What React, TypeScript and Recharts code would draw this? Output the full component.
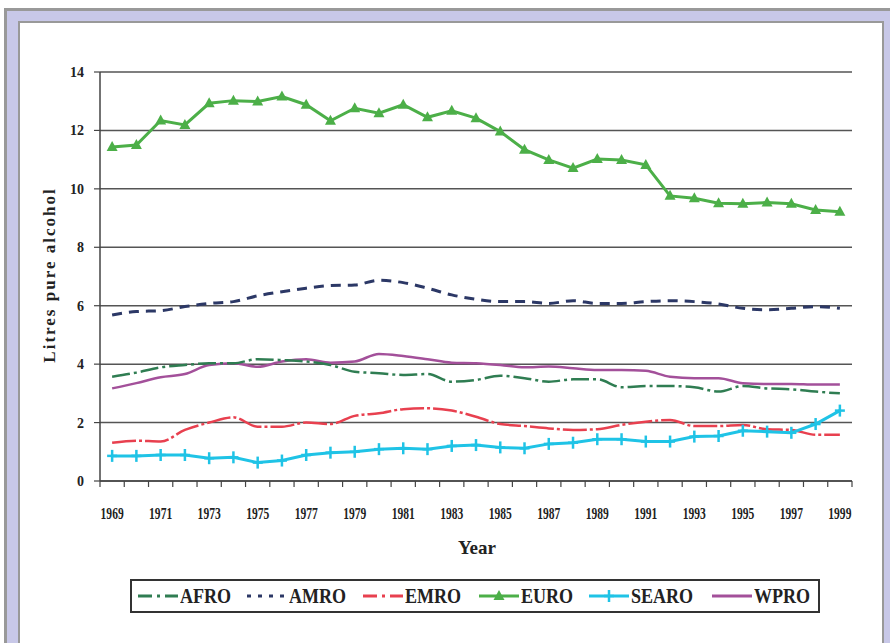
import { LineChart, Line, XAxis, YAxis, CartesianGrid } from "recharts";

const years = [
  1969, 1970, 1971, 1972, 1973, 1974, 1975, 1976, 1977, 1978, 1979, 1980, 1981, 1982, 1983, 1984,
  1985, 1986, 1987, 1988, 1989, 1990, 1991, 1992, 1993, 1994, 1995, 1996, 1997, 1998, 1999,
];

const afro = [
  3.57, 3.71, 3.89, 3.97, 4.03, 4.03, 4.17, 4.14, 4.09, 3.97, 3.74, 3.69, 3.63, 3.66, 3.4, 3.46,
  3.6, 3.52, 3.4, 3.48, 3.48, 3.21, 3.25, 3.25, 3.21, 3.06, 3.25, 3.17, 3.14, 3.06, 3.0,
];
const amro = [
  5.68, 5.8, 5.83, 5.97, 6.08, 6.14, 6.34, 6.48, 6.6, 6.69, 6.71, 6.87, 6.79, 6.6, 6.37, 6.22,
  6.14, 6.14, 6.08, 6.17, 6.08, 6.08, 6.14, 6.17, 6.14, 6.06, 5.91, 5.86, 5.91, 5.97, 5.91,
];
const emro = [
  1.31, 1.38, 1.35, 1.75, 2.0, 2.18, 1.86, 1.86, 2.0, 1.95, 2.23, 2.32, 2.46, 2.49, 2.41, 2.2,
  1.95, 1.88, 1.8, 1.75, 1.77, 1.92, 2.03, 2.09, 1.88, 1.88, 1.92, 1.77, 1.75, 1.58, 1.58,
];
const euro = [
  11.43, 11.5, 12.34, 12.19, 12.93, 13.02, 12.99, 13.16, 12.88, 12.33, 12.76, 12.59, 12.88, 12.45,
  12.67, 12.42, 11.96, 11.34, 10.99, 10.71, 11.02, 10.99, 10.82, 9.76, 9.68, 9.51, 9.49, 9.53, 9.49,
  9.28, 9.22,
];
const searo = [
  0.86, 0.86, 0.89, 0.89, 0.78, 0.81, 0.63, 0.7, 0.89, 0.97, 1.0, 1.09, 1.12, 1.09, 1.2, 1.23,
  1.15, 1.12, 1.27, 1.31, 1.43, 1.43, 1.35, 1.35, 1.52, 1.54, 1.72, 1.69, 1.65, 1.95, 2.41,
];
const wpro = [
  3.17, 3.35, 3.55, 3.66, 3.97, 4.03, 3.91, 4.09, 4.17, 4.05, 4.09, 4.35, 4.28, 4.17, 4.05, 4.03,
  3.97, 3.89, 3.92, 3.86, 3.8, 3.8, 3.77, 3.57, 3.52, 3.52, 3.35, 3.32, 3.32, 3.3, 3.3,
];

const yTicks = [0, 2, 4, 6, 8, 10, 12, 14];

const data = years.map((year, i) => ({
  year,
  AFRO: afro[i],
  AMRO: amro[i],
  EMRO: emro[i],
  EURO: euro[i],
  SEARO: searo[i],
  WPRO: wpro[i],
}));

const SERIF = "'Liberation Serif', 'Times New Roman', serif";
const PLOT_W = 752;
const HALF = PLOT_W / years.length / 2;

const C = {
  AFRO: "#2f7d52",
  AMRO: "#2c3866",
  EMRO: "#e8404f",
  EURO: "#4caf48",
  SEARO: "#1fc3e6",
  WPRO: "#a3509a",
};

const XTick = (props: any) => {
  const { x, y, payload, index } = props;
  const yr = Number(payload.value);
  return (
    <g>
      <line x1={x - HALF} y1={y} x2={x - HALF} y2={y + 6} stroke="#444" strokeWidth={1.2} />
      {index === years.length - 1 && (
        <line x1={x + HALF} y1={y} x2={x + HALF} y2={y + 6} stroke="#444" strokeWidth={1.2} />
      )}
      {yr % 2 === 1 && (
        <text
          transform={`translate(${x},${y + 38}) scale(0.68,1)`}
          textAnchor="middle"
          fontFamily={SERIF}
          fontWeight="bold"
          fontSize={17}
          fill="#222"
        >
          {yr}
        </text>
      )}
    </g>
  );
};

const Triangle = (props: any) => {
  const { cx, cy } = props;
  if (cx == null || cy == null) return null;
  return <path d={`M${cx},${cy - 6} L${cx + 5.5},${cy + 4} L${cx - 5.5},${cy + 4} Z`} fill={C.EURO} />;
};

const Plus = (props: any) => {
  const { cx, cy } = props;
  if (cx == null || cy == null) return null;
  return (
    <g stroke={C.SEARO} strokeWidth={2.5}>
      <line x1={cx - 5} y1={cy} x2={cx + 5} y2={cy} />
      <line x1={cx} y1={cy - 6} x2={cx} y2={cy + 6} />
    </g>
  );
};

const legendItems = [
  { name: "AFRO", color: C.AFRO, dash: "14 5 3 5", marker: "" },
  { name: "AMRO", color: C.AMRO, dash: "4 7", marker: "" },
  { name: "EMRO", color: C.EMRO, dash: "14 5 3 5", marker: "" },
  { name: "EURO", color: C.EURO, dash: "", marker: "tri" },
  { name: "SEARO", color: C.SEARO, dash: "", marker: "plus" },
  { name: "WPRO", color: C.WPRO, dash: "", marker: "" },
];

export default function App() {
  return (
    <div style={{ position: "absolute", left: 0, top: 0, width: 890, height: 643, overflow: "hidden", background: "#fff" }}>
      {/* frame */}
      <div
        style={{
          position: "absolute",
          left: 4,
          top: 8,
          width: 900,
          height: 700,
          background: "#c8c8e8",
          borderTop: "3px solid #999",
          borderLeft: "3px solid #999",
        }}
      />
      <div
        style={{
          position: "absolute",
          left: 18,
          top: 21,
          width: 862,
          height: 700,
          background: "#fff",
          border: "2px solid #999",
        }}
      />

      <LineChart
        width={890}
        height={643}
        data={data}
        margin={{ top: 72, right: 38, left: 60, bottom: 132 }}
        style={{ position: "absolute", left: 0, top: 0 }}
      >
        <CartesianGrid vertical={false} stroke="#555" strokeWidth={1.5} />
        <XAxis
          dataKey="year"
          height={30}
          padding={{ left: HALF, right: HALF }}
          interval={0}
          tickLine={false}
          tickSize={0}
          tickMargin={0}
          tick={<XTick />}
          axisLine={{ stroke: "#444", strokeWidth: 1.5 }}
        />
        <YAxis
          width={40}
          domain={[0, 14]}
          ticks={yTicks}
          interval={0}
          tickSize={6}
          tickMargin={10}
          tickLine={{ stroke: "#444", strokeWidth: 1.2 }}
          axisLine={{ stroke: "#444", strokeWidth: 1.5 }}
          tick={{ fontFamily: SERIF, fontWeight: "bold", fontSize: 14, fill: "#222" }}
        />
        <YAxis
          yAxisId="frame"
          orientation="right"
          width={0}
          tick={false}
          tickLine={false}
          axisLine={{ stroke: "#aaa", strokeWidth: 1.5 }}
        />
        <Line type="monotone" dataKey="AMRO" stroke={C.AMRO} strokeWidth={3} strokeDasharray="10 7" dot={false} isAnimationActive={false} />
        <Line type="monotone" dataKey="WPRO" stroke={C.WPRO} strokeWidth={2.5} dot={false} isAnimationActive={false} />
        <Line type="monotone" dataKey="AFRO" stroke={C.AFRO} strokeWidth={2.5} strokeDasharray="18 4 3 4" dot={false} isAnimationActive={false} />
        <Line type="monotone" dataKey="EMRO" stroke={C.EMRO} strokeWidth={2.5} strokeDasharray="24 3 3 3" dot={false} isAnimationActive={false} />
        <Line type="linear" dataKey="SEARO" stroke={C.SEARO} strokeWidth={3} dot={<Plus />} isAnimationActive={false} />
        <Line type="linear" dataKey="EURO" stroke={C.EURO} strokeWidth={3} dot={<Triangle />} isAnimationActive={false} />
      </LineChart>

      {/* y axis title */}
      <div
        style={{
          position: "absolute",
          left: 50,
          top: 275,
          transform: "translate(-50%, -50%) rotate(-90deg)",
          fontFamily: SERIF,
          fontWeight: "bold",
          fontSize: 17,
          letterSpacing: 2,
          whiteSpace: "nowrap",
          color: "#222",
        }}
      >
        Litres pure alcohol
      </div>

      {/* x axis title */}
      <div
        style={{
          position: "absolute",
          left: 477,
          top: 548,
          transform: "translate(-50%, -50%)",
          fontFamily: SERIF,
          fontWeight: "bold",
          fontSize: 19,
          color: "#222",
        }}
      >
        Year
      </div>

      {/* legend */}
      <div
        style={{
          position: "absolute",
          left: 130,
          top: 579,
          width: 678,
          height: 30,
          border: "2px solid #333",
          display: "flex",
          alignItems: "center",
          justifyContent: "space-between",
          padding: "0 4px",
          boxSizing: "content-box",
        }}
      >
        {legendItems.map((it) => (
          <div key={it.name} style={{ display: "flex", alignItems: "center" }}>
            <svg width={44} height={20}>
              <line x1={2} y1={10} x2={42} y2={10} stroke={it.color} strokeWidth={3} strokeDasharray={it.dash || undefined} />
              {it.marker === "tri" && <path d="M22,4 L27.5,14 L16.5,14 Z" fill={it.color} />}
              {it.marker === "plus" && (
                <g stroke={it.color} strokeWidth={2.5}>
                  <line x1={17} y1={10} x2={27} y2={10} />
                  <line x1={22} y1={4} x2={22} y2={16} />
                </g>
              )}
            </svg>
            <span
              style={{
                display: "inline-block",
                fontFamily: SERIF,
                fontWeight: "bold",
                fontSize: 22,
                color: "#222",
                transform: "scaleX(0.82)",
                transformOrigin: "left center",
                marginRight: -8,
              }}
            >
              {it.name}
            </span>
          </div>
        ))}
      </div>
    </div>
  );
}
